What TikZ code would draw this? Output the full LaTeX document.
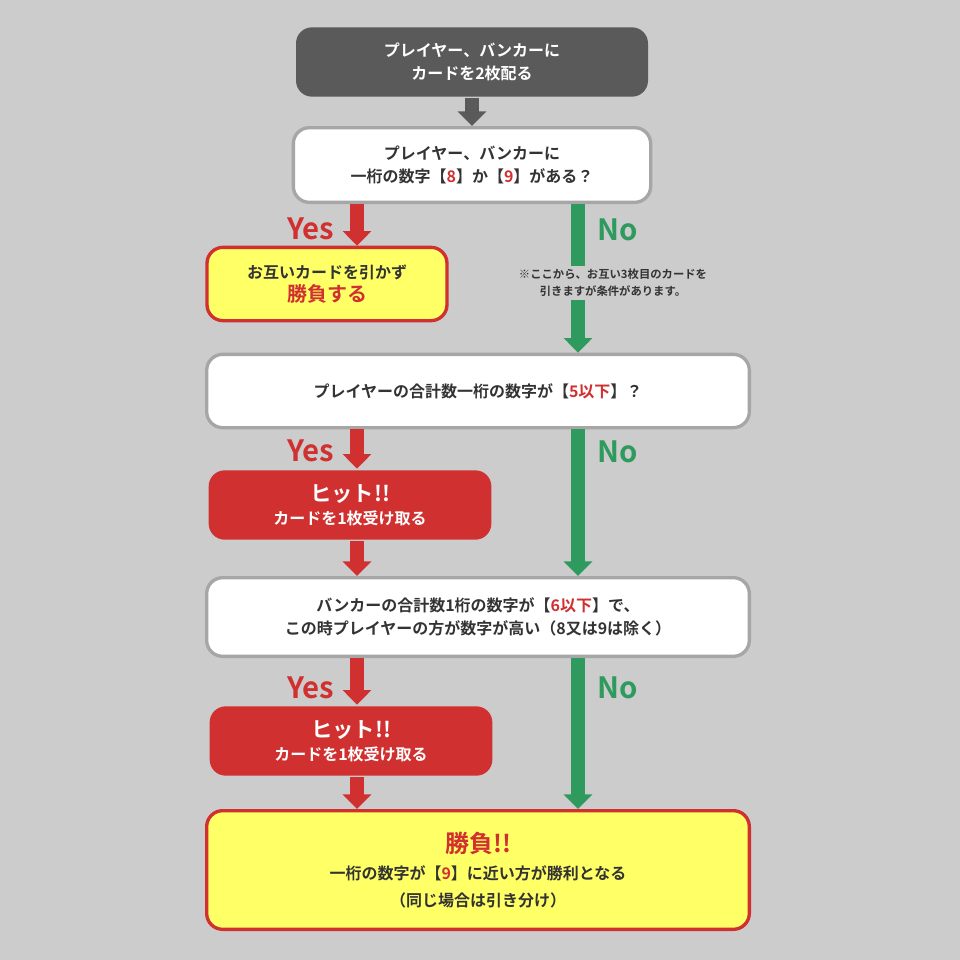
\documentclass[tikz,border=0pt]{standalone}
\usepackage{fontspec}
\setmainfont{Noto Sans CJK JP}[BoldFont={Noto Sans CJK JP Bold}]
\usetikzlibrary{arrows.meta}
\definecolor{bg}{HTML}{CCCCCC}
\definecolor{rd}{HTML}{D03030}
\definecolor{gn}{HTML}{2E9A5E}
\definecolor{dk}{HTML}{5A5A5A}
\definecolor{yl}{HTML}{FFFF66}
\definecolor{tx}{HTML}{333333}
\begin{document}
\begin{tikzpicture}[x=0.75pt,y=-0.75pt,
 box/.style={rounded corners=12pt,line width=2.5pt,align=center,font=\bfseries\fontsize{12}{17}\selectfont,text=tx,inner sep=0pt},
 wbox/.style={box,draw=gray!70,fill=white},
 ybox/.style={box,draw=rd,fill=yl},
 rbox/.style={box,fill=rd,text=white},
 arr/.style={line width=10.5pt,-{Triangle[width=21pt,length=11pt]}},
 lab/.style={font=\bfseries\fontsize{22}{22}\selectfont}]
\fill[bg] (0,0) rectangle (960,960);
\node[box,fill=dk,text=white,minimum width=264pt,minimum height=52pt] (b1) at (472,62) {プレイヤー、バンカーに\\カードを2枚配る};
\node[wbox,minimum width=268pt,minimum height=56pt] (b2) at (472,165) {プレイヤー、バンカーに\\一桁の数字【\textcolor{rd}{8}】か【\textcolor{rd}{9}】がある？};
\node[ybox,minimum width=180pt,minimum height=55pt] (b3) at (327,284) {お互いカードを引かず\\{\color{rd}\fontsize{15}{18}\selectfont 勝負する}};
\node[font=\bfseries\fontsize{8.5}{13}\selectfont,text=tx,align=center,fill=bg,inner sep=2pt] (nt) at (613,283) {※ここから、お互い3枚目のカードを\\引きますが条件があります。};
\node[wbox,minimum width=407pt,minimum height=55pt] (b4) at (478,391) {プレイヤーの合計数一桁の数字が【\textcolor{rd}{5以下}】？};
\node[rbox,minimum width=212pt,minimum height=52pt] (b5) at (350,505) {{\fontsize{16}{19}\selectfont ヒット!!}\\カードを1枚受け取る};
\node[wbox,minimum width=407pt,minimum height=59pt] (b6) at (478,617) {バンカーの合計数1桁の数字が【\textcolor{rd}{6以下}】で、\\この時プレイヤーの方が数字が高い（8又は9は除く）};
\node[rbox,minimum width=212pt,minimum height=52pt] (b7) at (351,741) {{\fontsize{16}{19}\selectfont ヒット!!}\\カードを1枚受け取る};
\node[ybox,minimum width=407pt,minimum height=89pt,font=\bfseries\fontsize{12}{20}\selectfont] (b8) at (478,870) {{\color{rd}\fontsize{18}{22}\selectfont 勝負!!}\\一桁の数字が【\textcolor{rd}{9}】に近い方が勝利となる\\（同じ場合は引き分け）};
\coordinate (xR) at (357,0); \coordinate (xG) at (578,0);
\draw[arr,dk] (b1.south) -- (b2.north);
\draw[arr,rd] (b2.south -| xR) -- (b3.north -| xR);
\draw[line width=10.5pt,gn] (b2.south -| xG) -- (nt.north -| xG);
\draw[arr,gn] (nt.south -| xG) -- (b4.north -| xG);
\draw[arr,rd] (b4.south -| xR) -- (b5.north -| xR);
\draw[arr,gn] (b4.south -| xG) -- (b6.north -| xG);
\draw[arr,rd] (b5.south -| xR) -- (b6.north -| xR);
\draw[arr,rd] (b6.south -| xR) -- (b7.north -| xR);
\draw[arr,gn] (b6.south -| xG) -- (b8.north -| xG);
\draw[arr,rd] (b7.south -| xR) -- (b8.north -| xR);
\node[lab,text=rd] (y1) at (311,229) {Yes};
\node[lab,text=gn] (n1) at (618,230) {No};
\node[lab,text=rd] (y2) at (311,451) {Yes};
\node[lab,text=gn] (n2) at (618,452) {No};
\node[lab,text=rd] (y3) at (311,688) {Yes};
\node[lab,text=gn] (n3) at (618,688) {No};
\end{tikzpicture}
\end{document}
